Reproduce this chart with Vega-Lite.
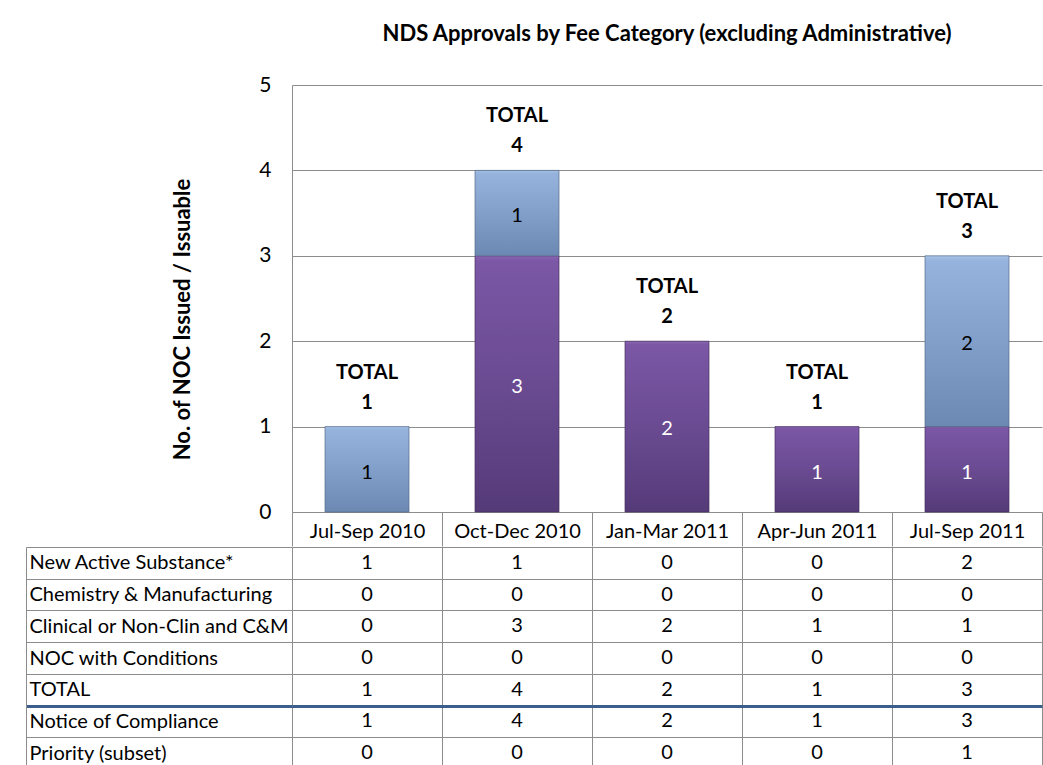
{
  "$schema": "https://vega.github.io/schema/vega-lite/v6.json",
  "background": "white",
  "padding": {"left": 24, "top": 23, "right": 0, "bottom": 0},
  "spacing": -12,
  "config": {"font": "Lato", "view": {"stroke": null}},
  "datasets": {
    "t": [
      {"row": "New Active Substance*", "quarter": "Jul-Sep 2010", "value": 1},
      {"row": "New Active Substance*", "quarter": "Oct-Dec 2010", "value": 1},
      {"row": "New Active Substance*", "quarter": "Jan-Mar 2011", "value": 0},
      {"row": "New Active Substance*", "quarter": "Apr-Jun 2011", "value": 0},
      {"row": "New Active Substance*", "quarter": "Jul-Sep 2011", "value": 2},
      {"row": "Chemistry & Manufacturing", "quarter": "Jul-Sep 2010", "value": 0},
      {"row": "Chemistry & Manufacturing", "quarter": "Oct-Dec 2010", "value": 0},
      {"row": "Chemistry & Manufacturing", "quarter": "Jan-Mar 2011", "value": 0},
      {"row": "Chemistry & Manufacturing", "quarter": "Apr-Jun 2011", "value": 0},
      {"row": "Chemistry & Manufacturing", "quarter": "Jul-Sep 2011", "value": 0},
      {"row": "Clinical or Non-Clin and C&M", "quarter": "Jul-Sep 2010", "value": 0},
      {"row": "Clinical or Non-Clin and C&M", "quarter": "Oct-Dec 2010", "value": 3},
      {"row": "Clinical or Non-Clin and C&M", "quarter": "Jan-Mar 2011", "value": 2},
      {"row": "Clinical or Non-Clin and C&M", "quarter": "Apr-Jun 2011", "value": 1},
      {"row": "Clinical or Non-Clin and C&M", "quarter": "Jul-Sep 2011", "value": 1},
      {"row": "NOC with Conditions", "quarter": "Jul-Sep 2010", "value": 0},
      {"row": "NOC with Conditions", "quarter": "Oct-Dec 2010", "value": 0},
      {"row": "NOC with Conditions", "quarter": "Jan-Mar 2011", "value": 0},
      {"row": "NOC with Conditions", "quarter": "Apr-Jun 2011", "value": 0},
      {"row": "NOC with Conditions", "quarter": "Jul-Sep 2011", "value": 0},
      {"row": "TOTAL", "quarter": "Jul-Sep 2010", "value": 1},
      {"row": "TOTAL", "quarter": "Oct-Dec 2010", "value": 4},
      {"row": "TOTAL", "quarter": "Jan-Mar 2011", "value": 2},
      {"row": "TOTAL", "quarter": "Apr-Jun 2011", "value": 1},
      {"row": "TOTAL", "quarter": "Jul-Sep 2011", "value": 3},
      {"row": "Notice of Compliance", "quarter": "Jul-Sep 2010", "value": 1},
      {"row": "Notice of Compliance", "quarter": "Oct-Dec 2010", "value": 4},
      {"row": "Notice of Compliance", "quarter": "Jan-Mar 2011", "value": 2},
      {"row": "Notice of Compliance", "quarter": "Apr-Jun 2011", "value": 1},
      {"row": "Notice of Compliance", "quarter": "Jul-Sep 2011", "value": 3},
      {"row": "Priority (subset)", "quarter": "Jul-Sep 2010", "value": 0},
      {"row": "Priority (subset)", "quarter": "Oct-Dec 2010", "value": 0},
      {"row": "Priority (subset)", "quarter": "Jan-Mar 2011", "value": 0},
      {"row": "Priority (subset)", "quarter": "Apr-Jun 2011", "value": 0},
      {"row": "Priority (subset)", "quarter": "Jul-Sep 2011", "value": 1}
    ]
  },
  "resolve": {"scale": {"x": "independent", "y": "independent"}},
  "vconcat": [
    {
      "width": 750,
      "height": 427,
      "data": {"name": "t"},
      "title": {"text": "NDS Approvals by Fee Category (excluding Administrative)", "frame": "group", "anchor": "middle", "font": "Lato", "fontSize": 22, "fontWeight": "bold", "color": "black", "offset": 28},
      "encoding": {
        "x": {"field": "quarter", "type": "nominal", "sort": ["Jul-Sep 2010", "Oct-Dec 2010", "Jan-Mar 2011", "Apr-Jun 2011", "Jul-Sep 2011"],
              "scale": {"type": "band", "paddingInner": 0, "paddingOuter": 0},
              "axis": {"title": null, "orient": "bottom", "labelAngle": 0, "labelFont": "Lato", "labelFontSize": 20, "labelColor": "black", "labelBaseline": "alphabetic", "labelPadding": -9, "domain": true, "domainColor": "#8c8c8c", "ticks": true, "tickBand": "extent", "tickSize": 34, "tickColor": "#8c8c8c", "grid": false}},
        "y": {"field": "v1", "type": "quantitative",
              "scale": {"domain": [0, 5], "nice": false, "zero": true},
              "axis": {"title": "No. of NOC Issued / Issuable", "titleFont": "Lato", "titleFontSize": 22, "titleFontWeight": "bold", "titleColor": "black", "titlePadding": 64, "titleY": 234, "values": [0, 1, 2, 3, 4, 5], "labelFont": "Lato", "labelFontSize": 21, "labelColor": "black", "labelPadding": 21, "ticks": false, "domain": true, "domainColor": "#8c8c8c", "grid": true, "gridColor": "#8c8c8c", "format": "d"}}
      },
      "layer": [
        {
          "transform": [
            {"filter": "datum.row === 'New Active Substance*' || datum.row === 'Clinical or Non-Clin and C&M'"},
            {"stack": "value", "groupby": ["quarter"], "sort": [{"field": "row", "order": "ascending"}], "as": ["v0", "v1"]},
            {"filter": "datum.row === 'Clinical or Non-Clin and C&M' && datum.value > 0"}
          ],
          "mark": {"type": "bar", "width": {"band": 0.56}, "stroke": "#47305f", "strokeWidth": 1, "strokeOpacity": 0.7,
                   "fill": {"gradient": "linear", "x1": 0, "y1": 0, "x2": 0, "y2": 1, "stops": [{"offset": 0, "color": "#8a65b4"}, {"offset": 0.02, "color": "#7b57a5"}, {"offset": 0.5, "color": "#6a4b92"}, {"offset": 1, "color": "#553a78"}]}},
          "encoding": {"y2": {"field": "v0"}}
        },
        {
          "transform": [
            {"filter": "datum.row === 'New Active Substance*' || datum.row === 'Clinical or Non-Clin and C&M'"},
            {"stack": "value", "groupby": ["quarter"], "sort": [{"field": "row", "order": "ascending"}], "as": ["v0", "v1"]},
            {"filter": "datum.row === 'New Active Substance*' && datum.value > 0"}
          ],
          "mark": {"type": "bar", "width": {"band": 0.56}, "stroke": "#55698a", "strokeWidth": 1, "strokeOpacity": 0.7,
                   "fill": {"gradient": "linear", "x1": 0, "y1": 0, "x2": 0, "y2": 1, "stops": [{"offset": 0, "color": "#a9c4e8"}, {"offset": 0.03, "color": "#95b3dc"}, {"offset": 0.5, "color": "#829fc9"}, {"offset": 1, "color": "#6c89b3"}]}},
          "encoding": {"y2": {"field": "v0"}}
        },
        {
          "transform": [
            {"filter": "datum.row === 'New Active Substance*' || datum.row === 'Clinical or Non-Clin and C&M'"},
            {"stack": "value", "groupby": ["quarter"], "sort": [{"field": "row", "order": "ascending"}], "as": ["v0", "v1"]},
            {"filter": "datum.value === 1"}
          ],
          "mark": {"type": "text", "font": "Lato", "fontSize": 20, "baseline": "middle", "dy": 46},
          "encoding": {"text": {"field": "value"}, "color": {"condition": {"test": "datum.row === 'New Active Substance*'", "value": "black"}, "value": "white"}}
        },
        {
          "transform": [
            {"filter": "datum.row === 'New Active Substance*' || datum.row === 'Clinical or Non-Clin and C&M'"},
            {"stack": "value", "groupby": ["quarter"], "sort": [{"field": "row", "order": "ascending"}], "as": ["v0", "v1"]},
            {"filter": "datum.value === 2"}
          ],
          "mark": {"type": "text", "font": "Lato", "fontSize": 20, "baseline": "middle", "dy": 88},
          "encoding": {"text": {"field": "value"}, "color": {"condition": {"test": "datum.row === 'New Active Substance*'", "value": "black"}, "value": "white"}}
        },
        {
          "transform": [
            {"filter": "datum.row === 'New Active Substance*' || datum.row === 'Clinical or Non-Clin and C&M'"},
            {"stack": "value", "groupby": ["quarter"], "sort": [{"field": "row", "order": "ascending"}], "as": ["v0", "v1"]},
            {"filter": "datum.value === 3"}
          ],
          "mark": {"type": "text", "font": "Lato", "fontSize": 20, "baseline": "middle", "dy": 131},
          "encoding": {"text": {"field": "value"}, "color": {"condition": {"test": "datum.row === 'New Active Substance*'", "value": "black"}, "value": "white"}}
        },
        {
          "transform": [
            {"filter": "datum.row === 'TOTAL'"},
            {"stack": "value", "groupby": ["quarter"], "as": ["v0", "v1"]}
          ],
          "mark": {"type": "text", "font": "Lato", "fontSize": 20, "fontWeight": "bold", "color": "black", "baseline": "middle", "dy": -54, "text": "TOTAL"}
        },
        {
          "transform": [
            {"filter": "datum.row === 'TOTAL'"},
            {"stack": "value", "groupby": ["quarter"], "as": ["v0", "v1"]}
          ],
          "mark": {"type": "text", "font": "Lato", "fontSize": 20, "fontWeight": "bold", "color": "black", "baseline": "middle", "dy": -24},
          "encoding": {"text": {"field": "value"}}
        }
      ]
    },
    {
      "width": 750,
      "height": 222,
      "data": {"name": "t"},
      "mark": {"type": "text", "font": "Lato", "fontSize": 20, "color": "black", "baseline": "middle"},
      "encoding": {
        "x": {"field": "quarter", "type": "nominal", "sort": ["Jul-Sep 2010", "Oct-Dec 2010", "Jan-Mar 2011", "Apr-Jun 2011", "Jul-Sep 2011"],
              "scale": {"type": "band", "paddingInner": 0, "paddingOuter": 0},
              "axis": {"title": null, "orient": "top", "labels": false, "ticks": false, "domain": false, "grid": true, "tickBand": "extent", "gridColor": "#8c8c8c", "minExtent": 0, "maxExtent": 0}},
        "y": {"field": "row", "type": "nominal",
              "sort": ["New Active Substance*", "Chemistry & Manufacturing", "Clinical or Non-Clin and C&M", "NOC with Conditions", "TOTAL", "Notice of Compliance", "Priority (subset)"],
              "scale": {"type": "band", "paddingInner": 0, "paddingOuter": 0},
              "axis": {"title": null, "orient": "left", "offset": 266, "domain": true, "domainColor": "#8c8c8c", "ticks": true, "tickSize": -266, "tickBand": "extent",
                       "tickColor": {"condition": {"test": "datum.value === 'TOTAL'", "value": "#3b5e8c"}, "value": "#8c8c8c"},
                       "tickWidth": {"condition": {"test": "datum.value === 'TOTAL'", "value": 3}, "value": 1},
                       "grid": true,
                       "gridColor": {"condition": {"test": "datum.value === 'TOTAL'", "value": "#3b5e8c"}, "value": "#8c8c8c"},
                       "gridWidth": {"condition": {"test": "datum.value === 'TOTAL'", "value": 3}, "value": 1},
                       "labelAlign": "left", "labelBaseline": "middle", "labelPadding": 263, "labelFont": "Lato", "labelFontSize": 20, "labelColor": "black", "labelLimit": 300}},
        "text": {"field": "value"}
      }
    }
  ]
}
